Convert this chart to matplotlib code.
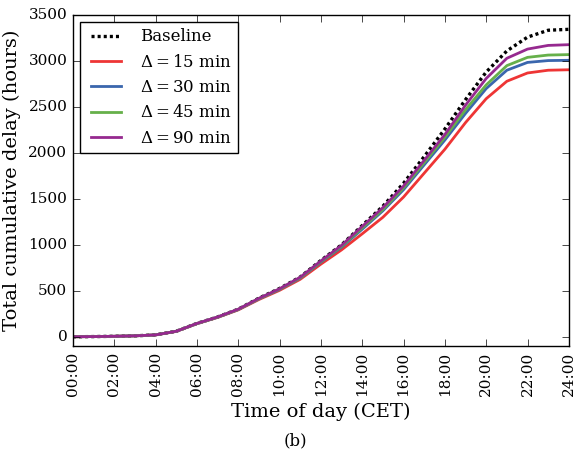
import numpy as np
import matplotlib
matplotlib.use("Agg")
import matplotlib.pyplot as plt

plt.style.use('classic')
plt.rcParams['font.family'] = 'serif'
plt.rcParams['font.serif'] = ['DejaVu Serif']
plt.rcParams['mathtext.fontset'] = 'dejavuserif'
plt.rcParams['figure.facecolor'] = 'white'
plt.rcParams['savefig.facecolor'] = 'white'

# Hour of the day (CET)
hours = list(range(25))

# Total cumulative delay (hours) for each scenario
baseline = [0, 2, 5, 10, 20, 60, 145, 215, 300, 420, 525, 650, 830, 1000,
            1210, 1420, 1670, 1960, 2260, 2580, 2880, 3110, 3260, 3335, 3345]
delta_15 = [0, 2, 5, 10, 20, 58, 142, 210, 292, 405, 505, 625, 790, 945,
            1120, 1300, 1520, 1780, 2040, 2330, 2590, 2780, 2870, 2900, 2905]
delta_30 = [0, 2, 5, 10, 20, 59, 143, 212, 296, 412, 515, 638, 812, 975,
            1170, 1370, 1600, 1870, 2140, 2430, 2700, 2900, 2985, 3005, 3008]
delta_45 = [0, 2, 5, 10, 20, 60, 144, 213, 298, 415, 518, 642, 818, 985,
            1185, 1385, 1620, 1895, 2170, 2470, 2740, 2950, 3040, 3065, 3070]
delta_90 = [0, 2, 5, 10, 20, 60, 145, 215, 300, 418, 522, 648, 825, 995,
            1200, 1405, 1640, 1920, 2200, 2520, 2810, 3030, 3130, 3170, 3178]

tick_hours = list(range(0, 25, 2))
tick_labels = ["{:02d}:00".format(h) for h in tick_hours]

fig = plt.figure(figsize=(5.74, 4.57), dpi=100)
ax = fig.add_axes([0.127, 0.243, 0.864, 0.724])

ax.plot(hours, baseline, color='black', lw=2.4, dashes=(2.2, 2.2),
        label='Baseline')
ax.plot(hours, delta_15, '-', color='#ee3535', lw=2, label=r'$\Delta = 15$ min')
ax.plot(hours, delta_30, '-', color='#3a66ad', lw=2, label=r'$\Delta = 30$ min')
ax.plot(hours, delta_45, '-', color='#66b04a', lw=2, label=r'$\Delta = 45$ min')
ax.plot(hours, delta_90, '-', color='#96298f', lw=2, label=r'$\Delta = 90$ min')

ax.set_xlim(0, 24)
ax.set_ylim(-100, 3500)
ax.set_xticks(tick_hours)
ax.set_xticklabels(tick_labels, rotation=90, fontsize=11)
ax.set_yticks(range(0, 3501, 500))
ax.tick_params(axis='y', labelsize=11)
ax.tick_params(direction='in', length=5, top=True, right=True)

ax.set_xlabel("Time of day (CET)", fontsize=14)
ax.set_ylabel("Total cumulative delay (hours)", fontsize=14)

leg = ax.legend(loc='upper left', fontsize=12, frameon=True, fancybox=False,
                borderaxespad=0.4, handlelength=2.4, labelspacing=0.5,
                numpoints=2)
leg.get_frame().set_linewidth(1.0)

fig.text(0.515, 0.035, "(b)", ha='center', va='center', fontsize=12)

plt.savefig("out.png", dpi=100)
